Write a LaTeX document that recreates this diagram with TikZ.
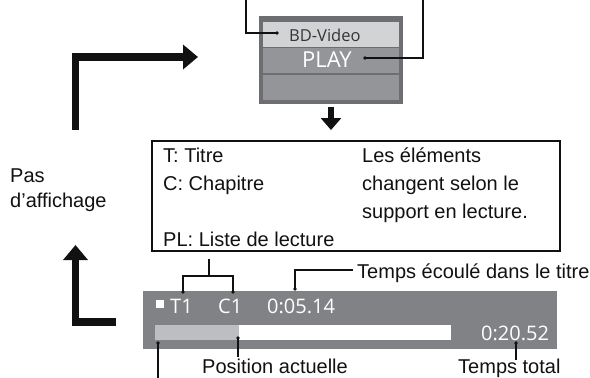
\documentclass[tikz,border=0pt]{standalone}
\usepackage{fontspec}
\setmainfont{Liberation Sans}
\newfontfamily\osdfont{Open Sans}
\usetikzlibrary{arrows.meta,calc,positioning}
\definecolor{ink}{HTML}{111111}
\definecolor{osdframe}{HTML}{6D6E71}
\definecolor{osdlight}{HTML}{D1D3D4}
\definecolor{osdmid}{HTML}{939598}
\definecolor{osdpanel}{HTML}{808285}
\definecolor{osdbar}{HTML}{BCBEC0}
\tikzset{
  leader/.style={draw=ink,line width=2pt},
  leaderdot/.style={circle,fill=ink,inner sep=0pt,minimum size=3.6pt},
  bigturn/.style={draw=ink,line width=7.5pt,-{Triangle[width=24pt,length=15pt]}},
  downarrow/.style={draw=ink,line width=6pt,-{Triangle[width=20pt,length=12pt]}},
  band/.style={inner sep=0pt,minimum width=136pt,minimum height=25pt},
  label/.style={inner sep=0pt,anchor=base west,font=\fontsize{20}{24}\selectfont,color=ink},
  osdtext/.style={inner sep=0pt,anchor=base west,font=\osdfont\fontsize{20}{23}\selectfont,color=white},
}

\begin{document}
\begin{tikzpicture}[x=1pt,y=-1pt]
  \useasboundingbox (0,0) rectangle (590,378);

  % disc menu
  \node[fill=osdframe,inner sep=0pt,minimum width=144pt,minimum height=88pt] (menu) at (331,60) {};
  \node[band,fill=osdlight] (bdband) at (331,34.5) {};
  \node[band,fill=osdmid] (playband) at (331,60) {};
  \node[band,fill=osdmid] (emptyband) at (331,87.5) {};
  \node[osdtext,color=ink!85,font=\osdfont\fontsize{16.5}{18}\selectfont] (bdtext) at (289,41) {BD-Video};
  \node[osdtext,font=\osdfont\fontsize{22}{24}\selectfont] (playtext) at (302,67) {PLAY};

  \coordinate (bdtag) at (277,33);
  \coordinate (playtag) at (365,58);
  \draw[leader] (246,0) |- (bdtag);
  \draw[leader] (423,0) |- (playtag);
  \node[leaderdot] at (bdtag) {};
  \node[leaderdot] at (playtag) {};

  % legend box
  \node[draw=ink,line width=2pt,inner sep=0pt,minimum width=408pt,minimum height=110pt] (infobox) at (356,196) {};
  \draw[downarrow] ([yshift=-3pt]menu.south) -- ([yshift=10pt]menu.south |- infobox.north);

  \node[label] (ktitle) at (163,162) {T: Titre};
  \node[label] (kchap) at (163,190) {C: Chapitre};
  \node[label] (klist) at (163,246) {PL: Liste de lecture};
  \foreach \txt [count=\i from 0] in {Les éléments,changent selon le,support en lecture.}
    \node[label] (note\i) at (362,162+28*\i) {\txt};

  % no display
  \node[label] (pas) at (10,182) {Pas};
  \node[label] (pasb) at (10,207) {d’affichage};
  \coordinate (upstart) at (75.5,130);
  \coordinate (upend) at (198,57);
  \coordinate (lowstart) at (116,322);
  \coordinate (lowend) at (75.5,245);
  \draw[bigturn] (upstart) |- (upend);
  \draw[bigturn] (lowstart) -| (lowend);

  % status bar
  \node[fill=osdpanel,inner sep=0pt,minimum width=414pt,minimum height=58pt] (panel) at (350,320) {};
  \fill[osdbar] (155,325) rectangle (239,340);
  \fill[white] (239,325) rectangle (451,340);
  \fill[white] (156,300) rectangle (164,308);
  \node[osdtext] (tnum) at (170,313) {T1};
  \node[osdtext] (cnum) at (218,313) {C1};
  \node[osdtext] (elapsed) at (267,313) {0:05.14};
  \node[osdtext] (total) at (481,340) {0:20.52};

  % leaders of the status bar
  \coordinate (brtop) at (209,259);
  \coordinate (brmid) at (209,276);
  \coordinate (tnumtag) at (183,292);
  \coordinate (cnumtag) at (233,292);
  \draw[leader] (brtop) -- (brmid);
  \draw[leader] (tnumtag) |- (brmid) -| (cnumtag);
  \coordinate (elapsedtag) at (295,289);
  \coordinate (elapsedend) at (353,270);
  \draw[leader] (elapsedtag) |- (elapsedend);
  \node[label] (elapsednote) at (357,278) {Temps écoulé dans le titre};

  \coordinate (starttag) at (158,343);
  \coordinate (posntag) at (238,338);
  \coordinate (totaltag) at (516,343);
  \draw[leader] (starttag) -- (158,378);
  \draw[leader] (posntag) -- (238,357);
  \draw[leader] (totaltag) -- (516,360);
  \node[label] (posnote) at (202,373.5) {Position actuelle};
  \node[label] (totalnote) at (458,373.5) {Temps total};
  \foreach \tag in {tnumtag,cnumtag,elapsedtag,starttag,posntag,totaltag}
    \node[leaderdot] at (\tag) {};
\end{tikzpicture}
\end{document}
